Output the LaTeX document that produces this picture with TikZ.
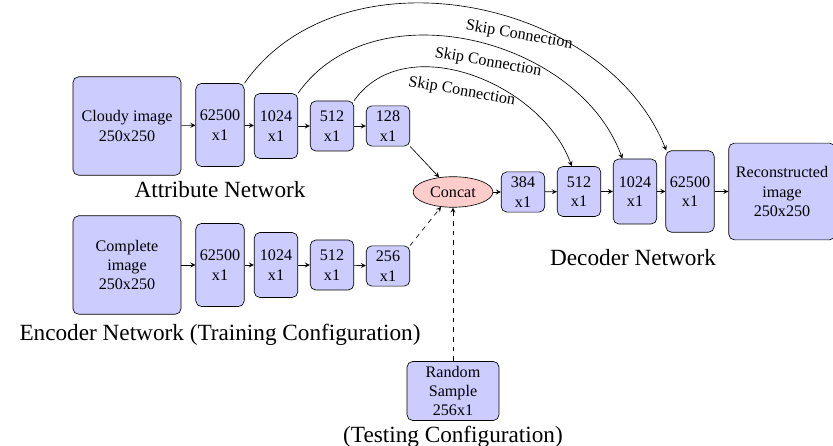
\documentclass[tikz,border=0pt]{standalone}
\usepackage{fontspec}
\setmainfont{Liberation Serif}
\usetikzlibrary{shapes.geometric}
\begin{document}
\begin{tikzpicture}[x=0.62pt, y=0.62pt, >=stealth,
		layer/.style={draw, fill=blue!20, rounded corners=3.5pt, align=center, inner sep=1pt, minimum width=27pt, minimum height=25pt},
		imagebox/.style={layer, minimum width=67pt, minimum height=61pt},
		joint/.style={draw, ellipse, fill=red!20},
		skiplabel/.style={anchor=north west, rotate=-10}]
	\useasboundingbox (0,0) rectangle (833,446);
	\node[imagebox] (cloudy) at (127,320) {Cloudy image\\250x250};
	\node[layer, minimum width=30pt, minimum height=51.5pt] (a1) at (220,321) {62500\\x1};
	\node[layer, minimum height=40.3pt] (a2) at (276,320) {1024\\x1};
	\node[layer, minimum height=31pt] (a3) at (332,320) {512\\x1};
	\node[layer] (a4) at (388,320) {128\\x1};
	\node[imagebox] (complete) at (127,181) {Complete\\image\\250x250};
	\node[layer, minimum width=30pt, minimum height=51.5pt] (e1) at (220,181) {62500\\x1};
	\node[layer, minimum height=40.3pt] (e2) at (276,181) {1024\\x1};
	\node[layer, minimum height=31pt] (e3) at (332,181) {512\\x1};
	\node[layer] (e4) at (388,180) {256\\x1};
	\node[joint] (concat) at (453,254) {Concat};
	\node[layer] (d1) at (523,254) {384\\x1};
	\node[layer, minimum height=31pt] (d2) at (579,254.5) {512\\x1};
	\node[layer, minimum height=40.3pt] (d3) at (635,254.5) {1024\\x1};
	\node[layer, minimum width=30pt, minimum height=50.5pt] (d4) at (690,254.5) {62500\\x1};
	\node[imagebox, minimum width=66pt, minimum height=60pt] (recon) at (782,254.5) {Reconstructed\\image\\250x250};
	\node[layer, minimum width=57pt, minimum height=36.6pt] (random) at (453,55) {Random\\Sample\\256x1};
	\node[font=\Large] (attr) at (220,256) {Attribute Network};
	\node[font=\Large] (enc) at (220,111) {Encoder Network (Training Configuration)};
	\node[font=\Large] (dec) at (633,188) {Decoder Network};
	\node[font=\Large] (test) at (453,9) {(Testing Configuration)};
	\draw[->] (cloudy) -- (a1);
	\draw[->] (a1) -- (a2);
	\draw[->] (a2) -- (a3);
	\draw[->] (a3) -- (a4);
	\draw[->] (complete) -- (e1);
	\draw[->] (e1) -- (e2);
	\draw[->] (e2) -- (e3);
	\draw[->] (e3) -- (e4);
	\draw[->] (a4.south east) -- (concat);
	\draw[->, dashed] (e4.north east) -- (concat);
	\draw[->, dashed] (random) -- (concat);
	\draw[->] (concat) -- (d1);
	\draw[->] (d1) -- (d2);
	\draw[->] (d2) -- (d3);
	\draw[->] (d3) -- (d4);
	\draw[->] (d4) -- (recon);
	\draw[->] (a1.north east) to[out=55, in=112] node[yshift=-3.5pt, skiplabel, pos=0.49] {Skip Connection} (d4.120);
	\draw[->] (a2.north east) to[out=55, in=110] node[yshift=-2.5pt, skiplabel, pos=0.4] {Skip Connection} (d3.111);
	\draw[->] (a3.north east) to[out=55, in=110] node[skiplabel, pos=0.25] {Skip Connection} (d2.106);
\end{tikzpicture}
\end{document}
